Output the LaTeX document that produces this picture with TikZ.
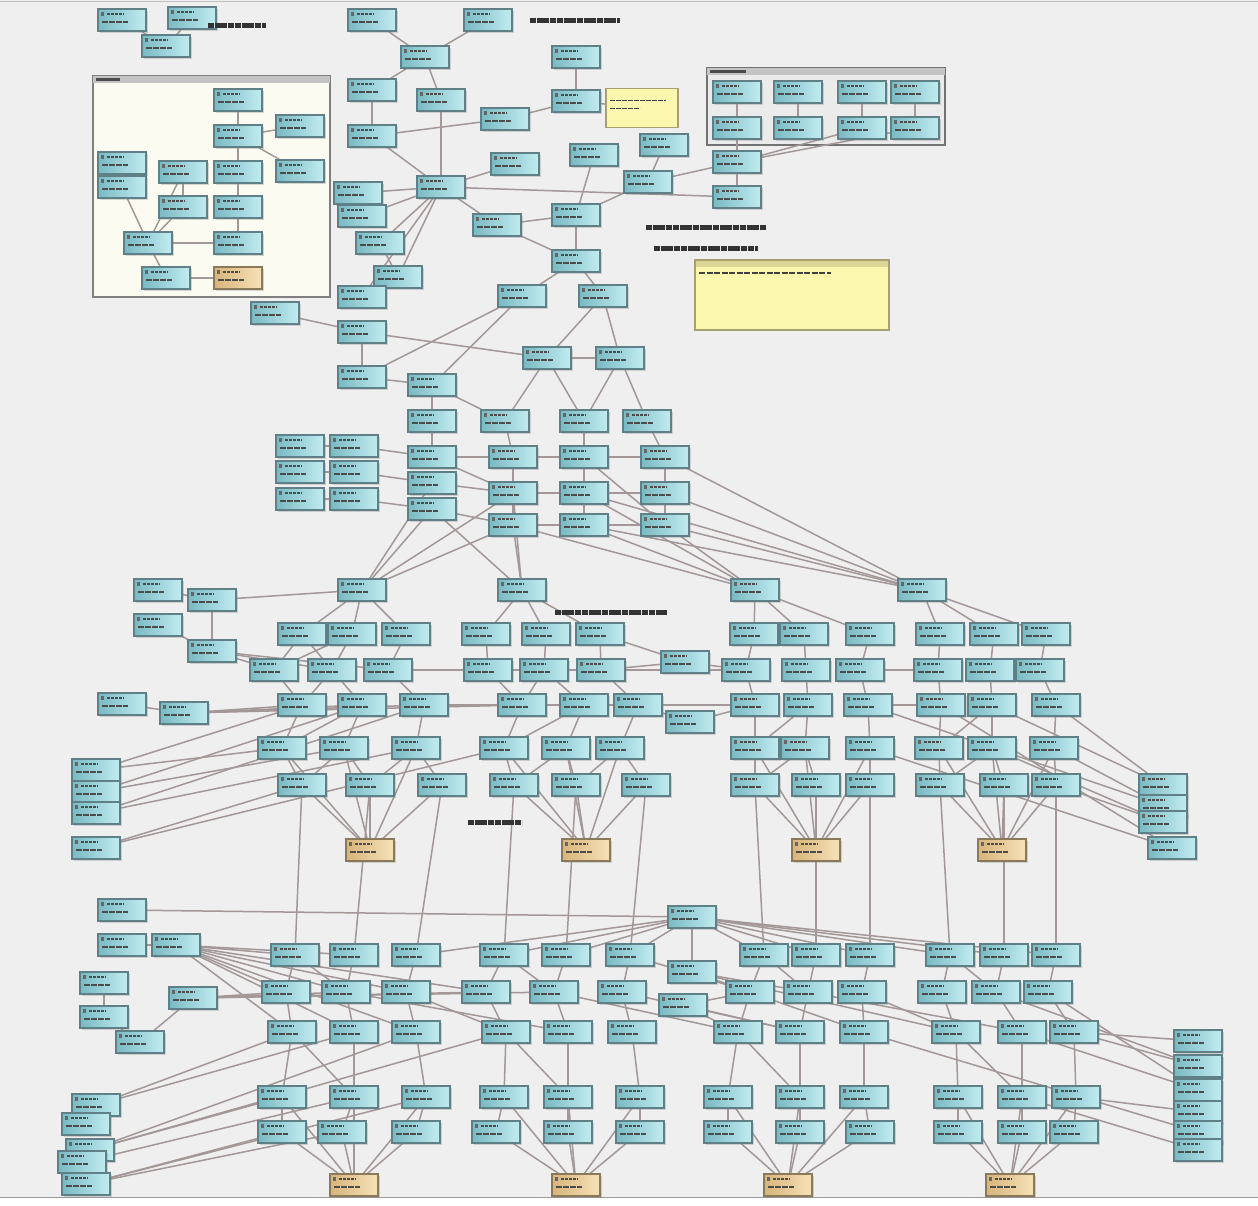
\documentclass[tikz,border=0pt]{standalone}
\usetikzlibrary{shadows}
\definecolor{bgc}{HTML}{EFEFEF}
\definecolor{bxtop}{HTML}{C2ECF1}
\definecolor{bxbot}{HTML}{79BAC3}
\definecolor{bxline}{HTML}{5F8087}
\definecolor{tantop}{HTML}{F6E2B8}
\definecolor{tanbot}{HTML}{D8B47A}
\definecolor{tanline}{HTML}{8A7A5A}
\definecolor{edgec}{HTML}{A39797}
\definecolor{notefill}{HTML}{FCF7AE}
\definecolor{noteline}{HTML}{A8A070}
\definecolor{notehdr}{HTML}{DCD492}
\definecolor{framefill}{HTML}{FBFBF2}
\definecolor{framehdr}{HTML}{C4C4C4}
\pgfdeclarelayer{back}
\pgfdeclarelayer{edges}
\pgfsetlayers{back,edges,main}
\tikzset{
  bx/.style={draw=bxline, line width=1.3pt, left color=bxbot, right color=bxtop,
    minimum width=48pt, minimum height=22pt, inner sep=0pt,
    drop shadow={shadow xshift=1.5pt, shadow yshift=-1.5pt, opacity=0.3},
    path picture={
      \fill[black!60] ([shift={(3pt,-3pt)}]path picture bounding box.north west) rectangle ++(3pt,-4pt);
      \draw[black!70, line width=1.5pt, dash pattern=on 3pt off 1pt] ([shift={(9pt,-5pt)}]path picture bounding box.north west) -- ++(17pt,0);
      \draw[black!70, line width=1.5pt, dash pattern=on 6pt off 1pt] ([shift={(4pt,-13pt)}]path picture bounding box.north west) -- ++(26pt,0);}},
  tanbx/.style={bx, draw=tanline, left color=tanbot, right color=tantop},
  note/.style={draw=noteline, line width=1.2pt, fill=notefill, inner sep=0pt},
  frm/.style={draw=black!50, line width=1.5pt, fill=framefill, inner sep=0pt},
  lbl/.style={inner sep=0pt, minimum height=6pt,
    path picture={\draw[black!80, line width=5pt, dash pattern=on 6pt off 0.7pt] (path picture bounding box.west) -- (path picture bounding box.east);}},
  ln/.style={draw=edgec, line width=1.5pt}
}
\begin{document}
\begin{tikzpicture}[x=1pt,y=-1pt]
\useasboundingbox (0,0) rectangle (1258,1205);
\begin{pgfonlayer}{back}
\fill[bgc] (0,0) rectangle (1258,1205);
\fill[white] (0,1197) rectangle (1258,1205);
\draw[black!40, line width=1pt] (0,1197) -- (1258,1197);
\draw[black!25, line width=1pt] (0,1.5) -- (1258,1.5);
% left frame
\node[frm, minimum width=237pt, minimum height=221pt] (fr1) at (211.5,186.5) {};
\fill[framehdr] ([shift={(0.75pt,-0.75pt)}]fr1.north west) rectangle ([shift={(-0.75pt,-8pt)}]fr1.north east);
\fill[black!70] ([shift={(4pt,-2.5pt)}]fr1.north west) rectangle ++(24pt,-3pt);
% right frame
\node[frm, fill=white!92!black, draw=black!55, minimum width=238pt, minimum height=77pt] (fr2) at (826,106.5) {};
\fill[framehdr] ([shift={(0.75pt,-0.75pt)}]fr2.north west) rectangle ([shift={(-0.75pt,-8pt)}]fr2.north east);
\fill[black!70] ([shift={(4pt,-2.5pt)}]fr2.north west) rectangle ++(36pt,-3pt);
\end{pgfonlayer}

% ---------- nodes ----------
\foreach \n/\x/\y in {A1/122/20,A2/192/18,A3/166/46,
  F1/238/100,F2/238/136,F3/300/126,F4/300/171,F5/238/172,F6/183/172,F7/122/163,F8/122/187,F9/183/207,F10/238/207,F11/148/243,F12/238/243,F13/166/278,
  B1/372/20,B2/488/20,B3/425/57,B4/372/90,B5/441/100,B6/372/136,B7/505/119,B8/576/57,B9/576/101,B10/515/164,B11/594/155,B12/664/145,B13/648/182,B14/441/187,B15/358/193,B16/362/216,B17/380/243,B18/398/277,B19/362/297,B20/497/225,B21/576/215,B22/576/261,B23/522/296,B24/603/296,B25/275/313,B26/362/332,B27/362/377,B28/432/385,B29/547/358,B30/620/358,
  G1/737/92,G2/798/92,G3/862/92,G4/915/92,G5/737/128,G6/798/128,G7/862/128,G8/915/128,H1/737/162,H2/737/197,
  C1/432/421,C2/505/421,C3/584/421,C4/647/421,
  L1/300/446,L2/354/446,L3/300/472,L4/354/472,L5/300/499,L6/354/499,
  D1/432/457,D2/432/483,D3/432/509,
  E1/513/457,E2/513/493,E3/513/525,E4/584/457,E5/584/493,E6/584/525,E7/665/457,E8/665/493,E9/665/525,
  M1/362/590,M2/522/590,M3/755/590,M4/922/590,
  P1/158/590,P2/212/600,P3/158/625,P4/212/651,P5/122/704,P6/184/713,
  Q1/96/770,Q2/96/792,Q3/96/813,Q4/96/848,
  X1/685/662,X2/690/722,
  R1/1163/785,R2/1163/806,R3/1163/822,R4/1172/848,
  S0/692/917,S1/692/972,S2/683/1005,
  K1/122/910,K2/122/945,K3/176/945,K4/104/983,K5/104/1017,K6/193/998,K7/140/1042,
  W1/96/1105,W1b/86/1124,W2/90/1150,W2b/82/1162,W3/86/1184,
  V1/1198/1041,V2/1198/1066,V3/1198/1090,V4/1198/1112,V5/1198/1132,V6/1198/1150}
  {\node[bx] (\n) at (\x,\y) {};}

% mid rows a-e
\foreach \n/\x in {11/302,12/352,13/406,21/486,22/546,23/600,31/754,32/804,33/870,41/940,42/994,43/1046}
  {\node[bx] (a\n) at (\x,634) {};}
\foreach \n/\x in {11/274,12/332,13/388,21/488,22/544,23/601,31/746,32/806,33/860,41/938,42/990,43/1040}
  {\node[bx] (b\n) at (\x,670) {};}
\foreach \n/\x in {11/302,12/362,13/424,21/522,22/584,23/638,31/755,32/808,33/868,41/941,42/992,43/1056}
  {\node[bx] (c\n) at (\x,705) {};}
\foreach \n/\x in {11/282,12/344,13/416,21/504,22/566,23/620,31/755,32/805,33/870,41/939,42/992,43/1054}
  {\node[bx] (d\n) at (\x,748) {};}
\foreach \n/\x in {11/302,12/370,13/442,21/514,22/576,23/646,31/755,32/816,33/870,41/940,42/1004,43/1056}
  {\node[bx] (e\n) at (\x,785) {};}
% bottom rows f-j
\foreach \n/\x in {11/295,12/354,13/416,21/504,22/566,23/630,31/764,32/816,33/870,41/950,42/1004,43/1056}
  {\node[bx] (f\n) at (\x,955) {};}
\foreach \n/\x in {11/286,12/346,13/406,21/486,22/554,23/622,31/750,32/808,33/862,41/942,42/996,43/1048}
  {\node[bx] (g\n) at (\x,992) {};}
\foreach \n/\x in {11/292,12/354,13/416,21/506,22/568,23/632,31/738,32/800,33/864,41/956,42/1022,43/1074}
  {\node[bx] (h\n) at (\x,1032) {};}
\foreach \n/\x in {11/282,12/354,13/426,21/504,22/568,23/640,31/728,32/800,33/864,41/958,42/1022,43/1076}
  {\node[bx] (i\n) at (\x,1097) {};}
\foreach \n/\x in {11/282,12/342,13/416,21/496,22/568,23/640,31/728,32/800,33/870,41/958,42/1022,43/1074}
  {\node[bx] (j\n) at (\x,1132) {};}

% tan nodes
\foreach \n/\x/\y in {F14/238/278,T1/370/850,T2/586/850,T3/816/850,T4/1002/850,U1/354/1185,U2/576/1185,U3/788/1185,U4/1010/1185}
  {\node[tanbx] (\n) at (\x,\y) {};}

% notes
\node[note, minimum width=72pt, minimum height=39pt,
  path picture={\draw[black!75, line width=1.6pt, dash pattern=on 5pt off 1pt] ([shift={(4pt,-12pt)}]path picture bounding box.north west) -- ++(56pt,0);
                \draw[black!75, line width=1.6pt, dash pattern=on 5pt off 1pt] ([shift={(4pt,-20pt)}]path picture bounding box.north west) -- ++(30pt,0);}] (Y1) at (642,108) {};
\node[note, minimum width=194pt, minimum height=70pt,
  path picture={\fill[notehdr] (path picture bounding box.north west) rectangle ([yshift=-7pt]path picture bounding box.north east);
                \draw[black!75, line width=1.6pt, dash pattern=on 6pt off 1.5pt] ([shift={(4pt,-13pt)}]path picture bounding box.north west) -- ++(132pt,0);}] (Y2) at (792,295) {};

% free labels
\node[lbl, minimum width=58pt] (t1) at (237,25) {};
\node[lbl, minimum width=90pt] (t2) at (575,20) {};
\node[lbl, minimum width=120pt] (t3) at (706,227) {};
\node[lbl, minimum width=104pt] (t4) at (706,248) {};
\node[lbl, minimum width=112pt] (t5) at (611,612) {};
\node[lbl, minimum width=54pt] (t6) at (495,822) {};

% ---------- connectors ----------
\begin{pgfonlayer}{edges}
\foreach \a/\b in {A1/A3,A2/A3,
  F1/F2,F2/F5,F2/F3,F2/F4,F5/F10,F10/F12,F11/F12,F11/F13,F13/F14,F6/F9,F9/F11,F8/F11,F6/F11,
  B1/B3,B2/B3,B3/B4,B3/B5,B4/B6,B5/B14,B6/B14,B6/B7,B7/B9,B8/B9,B9/Y1,B10/B14,B14/B15,B14/B16,B14/B17,B14/B18,B14/B19,B14/B20,B14/H2,
  B11/B21,B12/B13,B13/B21,B13/H1,B20/B21,B20/B22,B21/B22,B22/B23,B22/B24,B25/B26,B26/B27,B26/B29,B23/B27,B23/B28,B27/B28,
  B24/B29,B24/B30,B29/B30,B28/C1,B28/C2,B29/C2,B29/C3,B30/C3,B30/C4,B17/B18,B18/B19,
  G1/G5,G2/G6,G3/G7,G4/G8,G5/H1,H1/H2,G7/H1,G8/H1,
  C1/D1,C2/E1,C3/E4,C4/E7,L1/L2,L3/L4,L5/L6,L2/D1,L4/D2,L6/D3,D1/E1,D2/E2,D3/E3,E1/E4,E2/E5,E3/E6,E4/E7,E5/E8,E6/E9,
  E1/E2,E2/E3,E4/E5,E5/E6,E7/E8,E8/E9,D1/E2,E4/E9,E7/E9,
  D2/M1,D3/M1,E2/M1,E3/M1,E2/M2,E3/M2,D3/M2,E5/M3,E6/M3,E3/M3,E8/M4,E9/M4,E6/M4,E5/M4,E9/M3,E7/M4,
  b13/b21,b23/X1,X1/b31,b33/b41,c13/c21,c23/X2,X2/c31,c33/c41,a23/X1,b13/b31,c13/c31,
  a12/b11,a11/b12,b12/c11,b22/c21,c12/d11,c22/d21,c32/d31,c42/d41,d12/e11,d22/e21,d32/e31,d42/e41,d13/e12,d23/e22,
  P1/P2,P2/M1,P2/P4,P3/P4,P4/b11,P4/b12,P4/b13,P5/P6,P6/c11,P6/c12,P6/c13,P6/c21,
  Q1/c11,Q1/d11,Q2/c12,Q2/d12,Q3/c13,Q3/d13,Q4/d21,Q4/e11,
  c42/R1,c43/R1,d43/R2,d42/R3,c33/R2,d33/R4,e43/R3,c41/R4,
  K1/S0,K2/K3,K4/K5,K5/K7,K7/K6,K3/f11,K3/f12,K3/g11,K3/g12,K3/g13,K3/g21,K3/h11,K3/h12,K3/h13,
  K6/g11,K6/g12,K6/g21,K6/g22,
  S0/f13,S0/f21,S0/f22,S0/f23,S0/f31,S0/f32,S0/f33,S0/f41,S0/f42,S0/f43,S0/S1,
  S1/g31,S1/g32,S1/h33,S1/h41,S2/g31,S2/h31,S2/h32,
  g13/h21,g12/h22,g22/h31,g23/h32,f23/g31,g33/h41,g32/h42,
  f11/g12,f21/g22,f31/g32,f41/g42,h11/i12,h21/i22,h31/i32,h41/i42,
  W1/h11,W1/h12,W2/h13,W2/i11,W2/h21,W2b/i12,W3/i13,W3/j11,W3/j12,
  h43/V1,h43/V2,g43/V3,h42/V3,i43/V4,h33/V5,i42/V6,g42/V2}
  {\draw[ln] (\a) -- (\b);}
\foreach \g in {1,2,3,4}{
  \foreach \k in {1,2,3}{
    \draw[ln] (M\g) -- (a\g\k);
    \draw[ln] (a\g\k) -- (b\g\k);
    \draw[ln] (b\g\k) -- (c\g\k);
    \draw[ln] (c\g\k) -- (d\g\k);
    \draw[ln] (d\g\k) -- (e\g\k);
    \draw[ln] (e\g\k) -- (T\g);
    \draw[ln] (d\g\k) -- (T\g);
    \draw[ln] (e\g\k) -- (f\g\k);
    \draw[ln] (f\g\k) -- (g\g\k);
    \draw[ln] (g\g\k) -- (h\g\k);
    \draw[ln] (h\g\k) -- (i\g\k);
    \draw[ln] (i\g\k) -- (j\g\k);
    \draw[ln] (j\g\k) -- (U\g);
    \draw[ln] (i\g\k) -- (U\g);
  }
}
\end{pgfonlayer}
\end{tikzpicture}
\end{document}
